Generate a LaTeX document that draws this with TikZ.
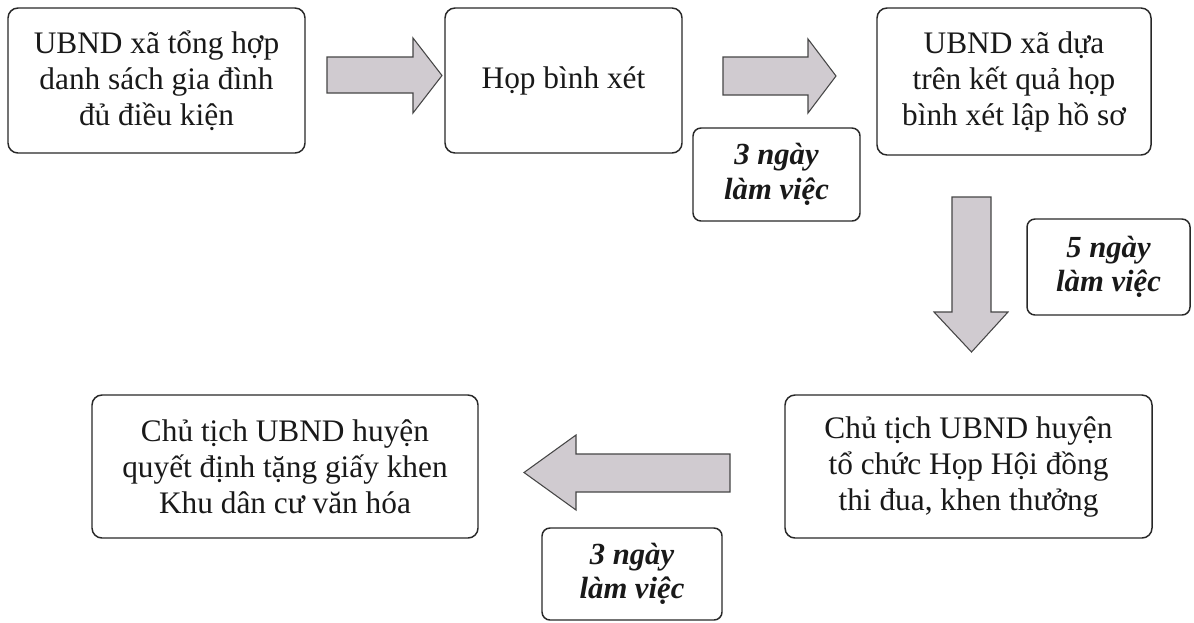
\documentclass[tikz,border=0pt]{standalone}
\usepackage{fontspec}
\setmainfont{Liberation Serif}
\definecolor{arrfill}{RGB}{208,203,208}
\definecolor{arrline}{RGB}{70,70,70}
\definecolor{boxline}{RGB}{40,40,40}
\definecolor{txt}{RGB}{25,25,25}
\begin{document}
\begin{tikzpicture}[x=0.75pt,y=-0.75pt,
  stepbox/.style={draw=boxline,line width=1.1pt,rounded corners=7.5pt,align=center,
    inner sep=0pt,text=txt,font=\fontsize{23.5}{27}\selectfont},
  daybox/.style={draw=boxline,line width=1.1pt,rounded corners=6pt,align=center,
    inner sep=0pt,text=txt,font=\fontsize{23}{26}\selectfont\bfseries\itshape},
  barrow/.style={draw=arrline,fill=arrfill,line width=0.8pt,line join=miter}]
\useasboundingbox (0,0) rectangle (1194,622);
\fill[white] (0,0) rectangle (1194,622);
% boxes
\node[stepbox,minimum width=222.75pt,minimum height=108.75pt] (b1) at (156.5,80.5)
  {UBND xã tổng hợp\\danh sách gia đình\\đủ điều kiện};
\node[stepbox,minimum width=177.75pt,minimum height=108.75pt] (b2) at (563.5,80.5)
  {Họp bình xét};
\node[stepbox,minimum width=205.5pt,minimum height=110.25pt] (b3) at (1014,81.5)
  {UBND xã dựa\\trên kết quả họp\\bình xét lập hồ sơ};
\node[stepbox,minimum width=275.25pt,minimum height=107.25pt] (b4) at (968.5,466.5)
  {Chủ tịch UBND huyện\\tổ chức Họp Hội đồng\\thi đua, khen thưởng};
\node[stepbox,minimum width=289.5pt,minimum height=107.25pt] (b5) at (285,466.5)
  {Chủ tịch UBND huyện\\quyết định tặng giấy khen\\Khu dân cư văn hóa};
% day labels
\node[daybox,minimum width=125.25pt,minimum height=69.75pt] (d1) at (776.5,174.5)
  {3 ngày\\làm việc};
\node[daybox,minimum width=122.25pt,minimum height=72pt] (d2) at (1108.5,267)
  {5 ngày\\làm việc};
\node[daybox,minimum width=135pt,minimum height=69pt] (d3) at (632,574)
  {3 ngày\\làm việc};
% block arrows
\draw[barrow] (327,57)--(413,57)--(413,38)--(442,75.5)--(413,113)--(413,93)--(327,93)--cycle;
\draw[barrow] (723,57)--(808,57)--(808,39)--(836,76)--(808,113)--(808,95)--(723,95)--cycle;
\draw[barrow] (952,197)--(991,197)--(991,312)--(1008,312)--(971.5,352)--(934,312)--(952,312)--cycle;
\draw[barrow] (730,454)--(576,454)--(576,435)--(524,472.5)--(576,510)--(576,492)--(730,492)--cycle;
\end{tikzpicture}
\end{document}
